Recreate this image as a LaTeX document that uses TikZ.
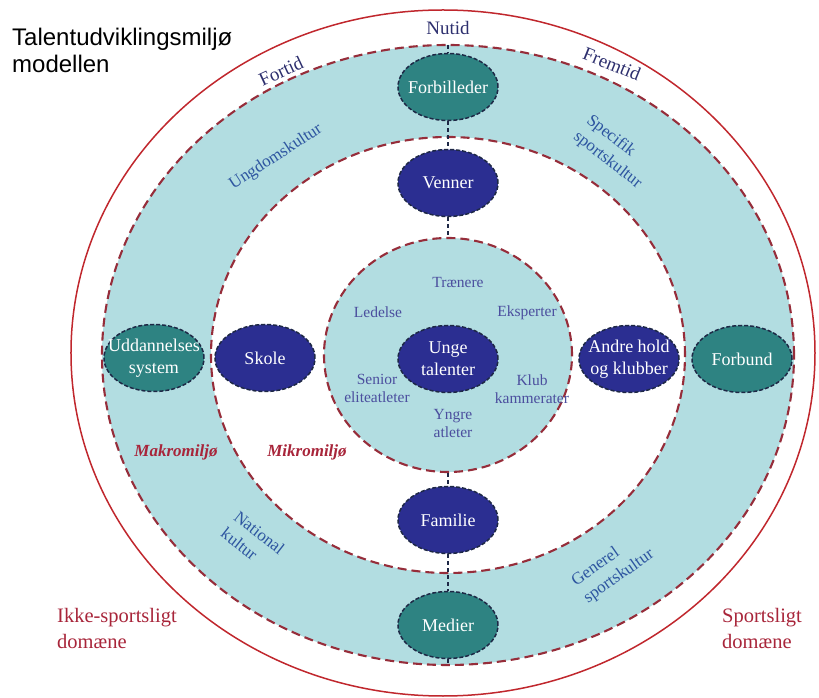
\documentclass[tikz,border=0pt]{standalone}
\usepackage{fontspec}
\setmainfont{Liberation Serif}
\newfontfamily\titlefont{Liberation Sans}
\usetikzlibrary{shapes.geometric}

\definecolor{bandblue}{RGB}{178,221,225}
\definecolor{tealnode}{RGB}{46,131,130}
\definecolor{navynode}{RGB}{43,46,145}
\definecolor{ringred}{RGB}{150,45,58}
\definecolor{outerred}{RGB}{192,39,45}
\definecolor{timeblue}{RGB}{45,47,110}
\definecolor{cultblue}{RGB}{45,85,160}
\definecolor{actorblue}{RGB}{75,78,158}
\definecolor{labelred}{RGB}{168,37,58}
\definecolor{nodeedge}{RGB}{30,40,70}

\begin{document}
\begin{tikzpicture}[x=1pt, y=1pt,
	ring/.style={draw=ringred, line width=2.1pt, dash pattern=on 9pt off 5pt},
	actor/.style={ellipse, draw=nodeedge, line width=1.5pt, dash pattern=on 4pt off 2pt, minimum width=100pt, minimum height=67pt, inner xsep=-11pt, inner ysep=0pt, text=white, align=center, font=\fontsize{18}{22}\selectfont},
	macro/.style={actor, fill=tealnode},
	micro/.style={actor, fill=navynode},
	link/.style={nodeedge, line width=1.3pt, dash pattern=on 4pt off 3pt},
	timelabel/.style={text=timeblue, font=\fontsize{19}{22}\selectfont},
	culture/.style={text=cultblue, align=left, inner sep=0pt, font=\fontsize{17}{21}\selectfont},
	actorlabel/.style={text=actorblue, align=center, inner sep=0pt, font=\fontsize{15.5}{18}\selectfont},
	milieu/.style={text=labelred, font=\fontsize{17}{20}\selectfont\bfseries\itshape},
	domaenelabel/.style={text=labelred, anchor=west, align=left, inner sep=0pt, font=\fontsize{20.5}{26}\selectfont}]
	\useasboundingbox (-448,-343) rectangle (371,355);
	\draw[outerred, line width=1.5pt] (-5,2) ellipse [x radius=372, y radius=343];
	\draw[ring, fill=bandblue] (0,0) ellipse [x radius=346, y radius=310];
	\draw[ring, fill=white] (0,0) ellipse [x radius=237, y radius=218];
	\node[ellipse, ring, fill=bandblue, minimum width=248pt, minimum height=234pt, inner sep=0pt] (kerne) at (0,0) {};
	\coordinate (top) at (0,310);
	\coordinate (bund) at (0,-310);

	\node[macro] (forbilleder) at (0,268) {Forbilleder};
	\node[micro] (venner) at (0,172) {Venner};
	\node[micro] (unge) at (0,-4) {Unge\\talenter};
	\node[micro] (familie) at (0,-165) {Familie};
	\node[macro] (medier) at (0,-270) {Medier};
	\node[macro] (uddannelse) at (-294,-3) {Uddannelses\\system};
	\node[micro] (skole) at (-183,-3) {Skole};
	\node[micro] (andre) at (181,-4) {Andre hold\\og klubber};
	\node[macro] (forbund) at (294,-4) {Forbund};

	\draw[link] (top) -- (forbilleder);
	\draw[link] (forbilleder) -- (venner);
	\draw[link] (venner) -- (kerne);
	\draw[link] (kerne) -- (familie);
	\draw[link] (familie) -- (medier);
	\draw[link] (medier) -- (bund);

	\node[timelabel] (nutid) at (0,327) {Nutid};
	\node[timelabel, rotate=25] (fortid) at (-167,284) {Fortid};
	\node[timelabel, rotate=-22] (fremtid) at (164,291) {Fremtid};
	\node[culture, rotate=33] (ungdom) at (-172,198) {Ungdomskultur};
	\node[culture, rotate=-38] (specifik) at (166,203) {Specifik\\sportskultur};
	\node[culture, rotate=-38] (national) at (-195,-186) {National\\kultur};
	\node[culture, rotate=35] (generel) at (165,-213) {Generel\\sportskultur};

	\node[actorlabel] (traenere) at (10,72) {Trænere};
	\node[actorlabel] (ledelse) at (-70,43) {Ledelse};
	\node[actorlabel] (eksperter) at (79,42) {Eksperter};
	\node[actorlabel] (senior) at (-71,-33) {Senior\\eliteatleter};
	\node[actorlabel] (klub) at (84,-34) {Klub\\kammerater};
	\node[actorlabel] (yngre) at (5,-69) {Yngre\\atleter};

	\node[milieu] (makro) at (-272,-97) {Makromiljø};
	\node[milieu] (mikro) at (-141,-97) {Mikromiljø};
	\node[domaenelabel] (ikke) at (-391,-273) {Ikke-sportsligt\\domæne};
	\node[domaenelabel] (sport) at (274,-273) {Sportsligt\\domæne};
	\node[anchor=north west, inner sep=0pt, align=left, font=\titlefont\fontsize{24}{27}\selectfont] (titel) at (-436,327) {Talentudviklingsmiljø\\modellen};
\end{tikzpicture}
\end{document}
